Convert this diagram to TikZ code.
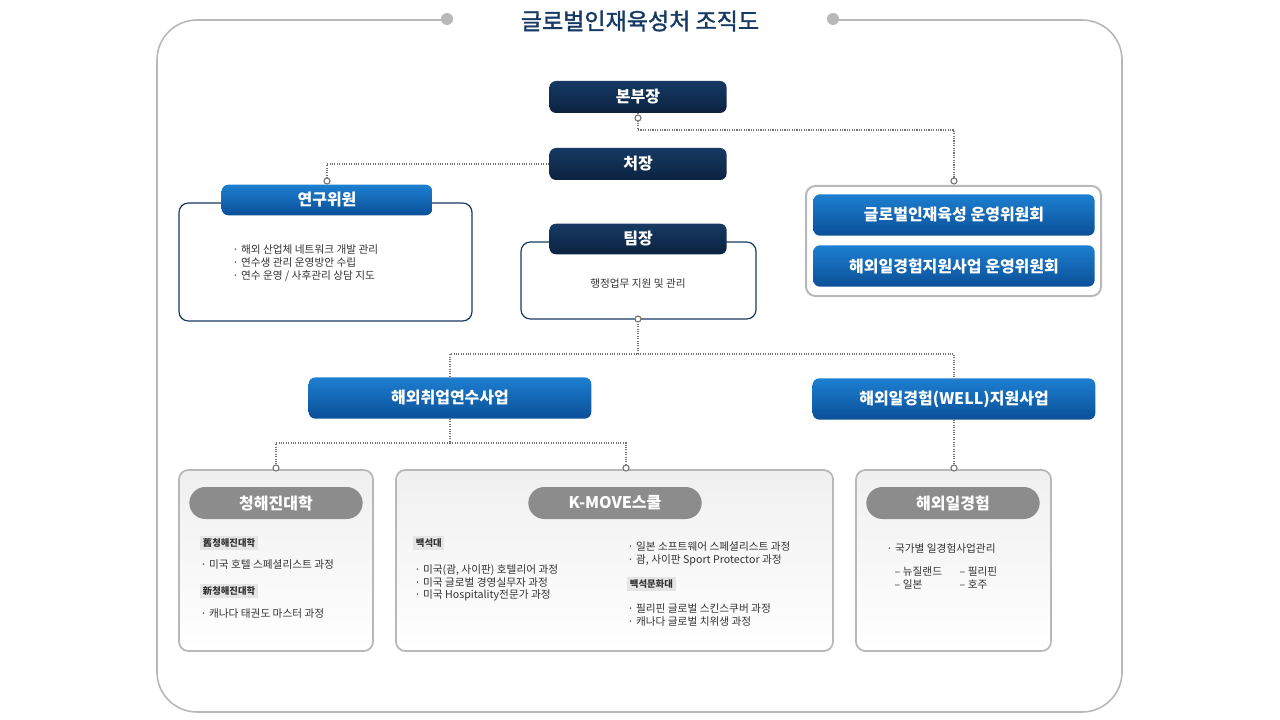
\documentclass[tikz,border=0pt]{standalone}
\usepackage{fontspec}
\setmainfont{Noto Sans CJK KR}
\newfontfamily\cjkbold{Noto Sans CJK KR}[FakeBold=1.5]
\usetikzlibrary{positioning, calc}

\definecolor{navy}{HTML}{163A63}
\definecolor{navydark}{HTML}{0B2240}
\definecolor{blueA}{HTML}{1D7FD0}
\definecolor{blueB}{HTML}{0B4F98}
\definecolor{frame}{HTML}{B8B8B8}
\definecolor{pill}{HTML}{8C8C8C}
\definecolor{txt}{HTML}{333333}

\begin{document}
\begin{tikzpicture}
  [x=0.75pt, y=-0.75pt,
  % title boxes
  head/.style = {rectangle, rounded corners=5pt, draw=none,
    top color=navy, bottom color=navydark, text=white,
    font=\bfseries\large, minimum width=133pt, minimum height=24pt},
  % blue bars
  bar/.style = {rectangle, rounded corners=5pt, draw=none,
    top color=blueA, bottom color=blueB, text=white,
    font=\bfseries\large, minimum height=31pt},
  % white boxes
  card/.style = {draw, rounded corners=7pt, fill=white, line width=0.9pt},
  % gray pills
  pillbox/.style = {rectangle, rounded corners=12pt, fill=pill, text=white,
    font=\bfseries\large, minimum width=130pt, minimum height=24pt},
  tag/.style = {fill=black!10, font=\scriptsize\bfseries, text=txt,
    inner sep=2pt, anchor=west},
  item/.style = {font=\footnotesize, text=txt, anchor=west, align=left},
  link/.style = {draw=black!55, densely dotted, line width=0.8pt},
  dot/.style = {circle, fill=white, draw=black!55, line width=0.8pt,
    inner sep=1.6pt},
  ]
  \useasboundingbox (0,0) rectangle (1280,720);

  % frame
  \draw [frame, line width=1.2pt, rounded corners=30pt]
    (445,20) -- (157,20) -- (157,712) -- (1122,712) -- (1122,20) -- (835,20);
  \fill [frame] (447,19) circle (4.5pt) (833,19) circle (4.5pt);
  \node [text=navy, font=\cjkbold\LARGE] (title) at (640,21) {글로벌인재육성처 조직도};

  % top nodes
  \node [head] (bonbu) at (638,97) {본부장};
  \node [head] (cheo) at (638,164) {처장};

  % research box
  \draw [card, draw=navy] (179,203) rectangle (472,321);
  \node [bar, minimum width=158pt, minimum height=23pt] (yeongu) at (327,200) {연구위원};
  \node [item] (yeongutxt) at (228,263) {· 해외 산업체 네트워크 개발 관리\\· 연수생 관리 운영방안 수립\\· 연수 운영 / 사후관리 상담 지도};

  % team box
  \draw [card, draw=navy] (521,242) rectangle (756,319);
  \node [head, minimum height=23pt] (tim) at (638,239) {팀장};
  \node [font=\footnotesize, text=txt] (timtxt) at (638,284) {행정업무 지원 및 관리};
  \coordinate (timbot) at (638,319);

  % committees
  \draw [card, draw=frame, line width=1.5pt] (806,186) rectangle (1101,296);
  \node [bar, minimum width=211pt] (wiwon1) at (954,215) {글로벌인재육성 운영위원회};
  \node [bar, minimum width=211pt] (wiwon2) at (954,266) {해외일경험지원사업 운영위원회};

  % programmes
  \node [bar, minimum width=212pt] (chwieop) at (450,398) {해외취업연수사업};
  \node [bar, minimum width=212pt] (well) at (954,399) {해외일경험(WELL)지원사업};

  % bottom cards
  \draw [card, draw=frame, line width=1.3pt, top color=black!6, bottom color=white] (179,470) rectangle (373,651);
  \draw [card, draw=frame, line width=1.3pt, top color=black!6, bottom color=white] (396,470) rectangle (833,651);
  \draw [card, draw=frame, line width=1.3pt, top color=black!6, bottom color=white] (856,470) rectangle (1051,651);
  \node [pillbox] (cheonghae) at (276,503) {청해진대학};
  \node [pillbox] (kmove) at (615,503) {K-MOVE스쿨};
  \node [pillbox] (ilgyeong) at (953,503) {해외일경험};

  \node [tag] (old) at (200,543) {舊청해진대학};
  \node [item] (oldtxt) at (196,565) {· 미국 호텔 스페셜리스트 과정};
  \node [tag] (new) at (200,591) {新청해진대학};
  \node [item] (newtxt) at (196,614) {· 캐나다 태권도 마스터 과정};

  \node [tag] (baekseok) at (413,543) {백석대};
  \node [item] (bstxt) at (410,583) {· 미국(괌, 사이판) 호텔리어 과정\\· 미국 글로벌 경영실무자 과정\\· 미국 Hospitality전문가 과정};
  \node [item] (jptxt) at (623,554) {· 일본 소프트웨어 스페셜리스트 과정\\· 괌, 사이판 Sport Protector 과정};
  \node [tag] (munhwa) at (627,584) {백석문화대};
  \node [item] (phtxt) at (623,615) {· 필리핀 글로벌 스킨스쿠버 과정\\· 캐나다 글로벌 치위생 과정};

  \node [item] (natxt) at (882,548) {· 국가별 일경험사업관리};
  \node [item] (natxt2) at (890,578) {– 뉴질랜드\\– 일본};
  \node [item] (natxt3) at (955,578) {– 필리핀\\– 호주};

  % links
  \path [link] (bonbu.south) -- (638,130) -| (954,181);
  \path [link] (cheo.west) -| (327,181);
  \path [link] (timbot) -- (638,354) -| (450,380);
  \path [link] (638,354) -| (954,380);
  \path [link] (chwieop.south) -- (450,443) -| (276,468);
  \path [link] (450,443) -| (626,468);
  \path [link] (well.south) -- (954,468);
  \foreach \p in {(638,118),(954,181),(327,181),(638,319),(276,468),(626,468),(954,468)}
    \node [dot] at \p {};
\end{tikzpicture}
\end{document}
